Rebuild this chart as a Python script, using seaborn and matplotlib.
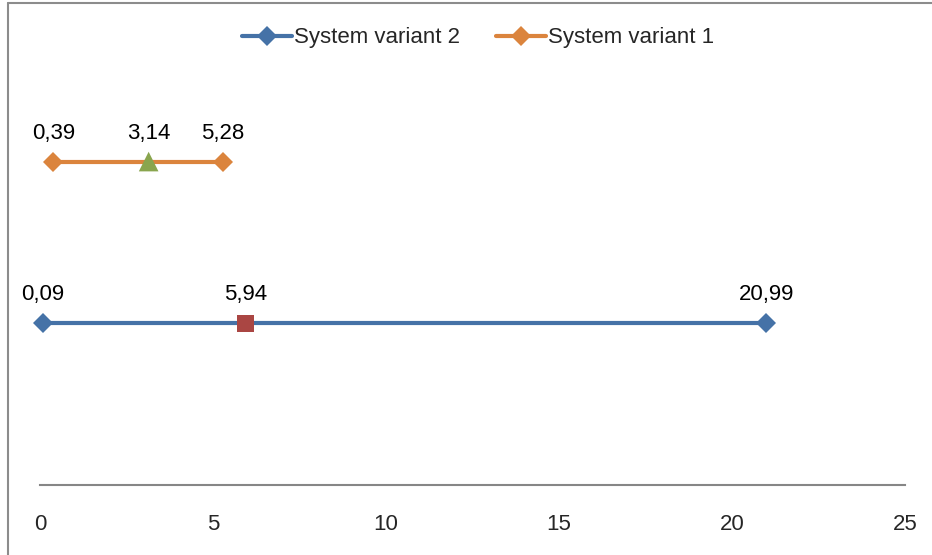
import matplotlib
matplotlib.use("Agg")
import matplotlib.pyplot as plt
from matplotlib.lines import Line2D
import pandas as pd
import seaborn as sns

# values
variant1_x = [0.39, 5.28]
variant1_mid = 3.14
variant2_x = [0.09, 20.99]
variant2_mid = 5.94
series_names = ["System variant 2", "System variant 1"]
x_ticks = [0, 5, 10, 15, 20, 25]

blue = "#4572A7"
orange = "#DB843D"
green = "#89A54E"
red = "#AA4643"

sns.set_style("white")
plt.rcParams["font.family"] = ["Liberation Sans", "DejaVu Sans"]

df = pd.DataFrame({
    "x": variant2_x + variant1_x,
    "y": [1, 1, 2, 2],
    "series": [series_names[0]] * 2 + [series_names[1]] * 2,
})

fig = plt.figure(figsize=(9.32, 5.55), dpi=100)
ax = fig.add_axes([40 / 932, 1 - 484.7 / 555, 865 / 932, 484.7 / 555])

sns.lineplot(data=df, x="x", y="y", hue="series", hue_order=series_names,
             palette=[blue, orange], marker="D", markersize=10, linewidth=3,
             markeredgewidth=0, ax=ax, legend=False, clip_on=False)

sns.scatterplot(x=[variant2_mid], y=[1], marker="s", s=150, color=red,
                edgecolor="none", ax=ax, zorder=5)
sns.scatterplot(x=[variant1_mid], y=[2], marker="^", s=200, color=green,
                edgecolor="none", ax=ax, zorder=5)

# data labels
for xs, yv in [(variant2_x + [variant2_mid], 1), (variant1_x + [variant1_mid], 2)]:
    for xv in xs:
        ax.annotate(f"{xv:.2f}".replace(".", ","), (xv, yv), xytext=(0, 20.5),
                    textcoords="offset points", ha="center", va="center",
                    fontsize=16, color="black")

ax.set_xlim(0, 25)
ax.set_ylim(0, 3)
ax.set_xticks(x_ticks)
ax.set_xticklabels([str(t) for t in x_ticks], fontsize=16)
ax.tick_params(axis="x", length=0, pad=21)
ax.set_yticks([])
ax.set_xlabel("")
ax.set_ylabel("")
for side in ["top", "right", "left"]:
    ax.spines[side].set_visible(False)
ax.spines["bottom"].set_color("#868686")
ax.spines["bottom"].set_linewidth(1.5)
ax.patch.set_alpha(0)

handles = [Line2D([], [], color=blue, lw=3, marker="D", markersize=10, markeredgewidth=0),
           Line2D([], [], color=orange, lw=3, marker="D", markersize=10, markeredgewidth=0)]
fig.legend(handles, series_names, loc="center", bbox_to_anchor=(478 / 932, 1 - 38 / 555),
           ncol=2, frameon=False, fontsize=16, handlelength=2.25, handletextpad=0.1,
           columnspacing=1.6)

# outer chart border (only left and top visible in the crop)
fig.add_artist(Line2D([8 / 932, 8 / 932], [0, 1 - 3 / 555], color="#8c8c8c", lw=1.5,
                      transform=fig.transFigure))
fig.add_artist(Line2D([8 / 932, 1], [1 - 3 / 555, 1 - 3 / 555], color="#8c8c8c", lw=1.5,
                      transform=fig.transFigure))

fig.savefig("out.png", dpi=100)
